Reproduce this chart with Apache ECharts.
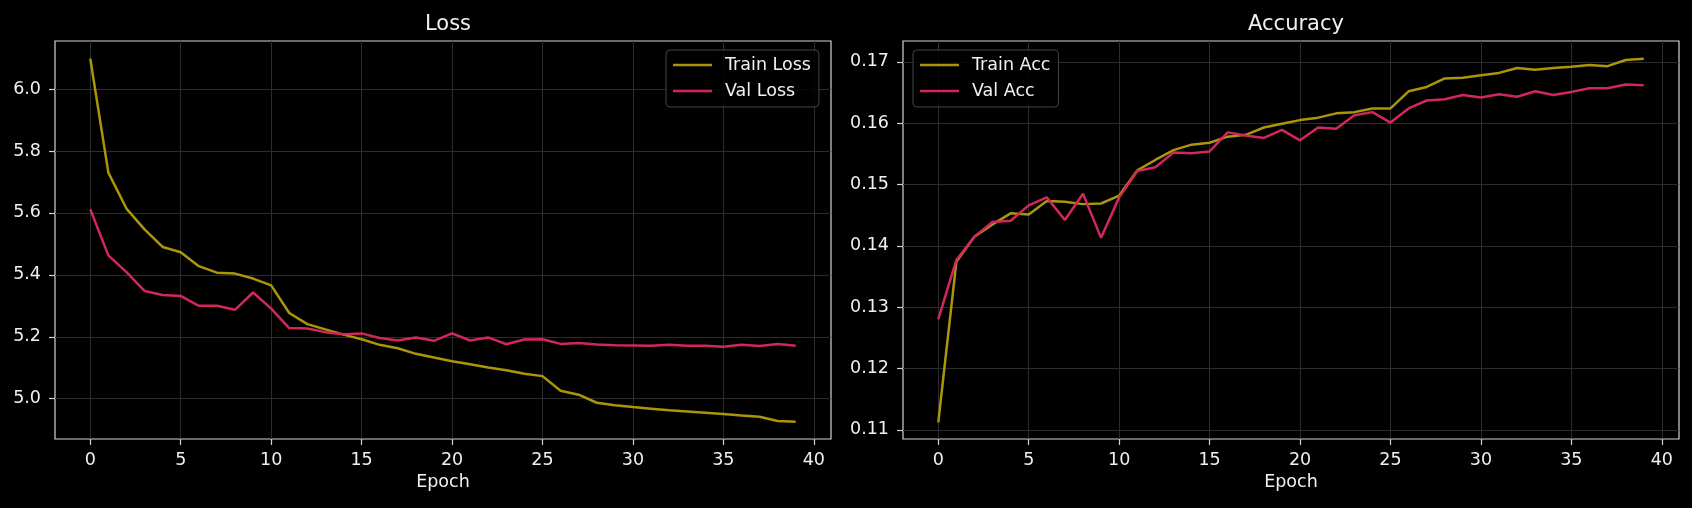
<!DOCTYPE html>
<html>
<head>
<meta charset="utf-8">
<title>Loss / Accuracy</title>
<script src="https://cdn.jsdelivr.net/npm/echarts@6/dist/echarts.min.js"></script>
<style>
	html, body { margin: 0; padding: 0; background: #000; }
	#chart { width: 1692px; height: 508px; }
</style>
</head>
<body>
<div id="chart"></div>
<script>
// values, epochs 0..39
var epochs = [];
for (var e = 0; e < 40; e++) epochs.push(e);

var trainLoss = [6.098, 5.730, 5.614, 5.547, 5.490, 5.473, 5.428, 5.407, 5.404, 5.388,
	5.366, 5.277, 5.241, 5.224, 5.207, 5.192, 5.174, 5.163, 5.145, 5.133,
	5.121, 5.111, 5.101, 5.092, 5.081, 5.073, 5.026, 5.013, 4.987, 4.979,
	4.973, 4.968, 4.963, 4.959, 4.955, 4.951, 4.946, 4.942, 4.928, 4.926];
var valLoss = [5.612, 5.463, 5.409, 5.348, 5.335, 5.332, 5.300, 5.300, 5.287, 5.343,
	5.291, 5.228, 5.227, 5.215, 5.208, 5.211, 5.196, 5.188, 5.198, 5.187,
	5.211, 5.188, 5.198, 5.176, 5.191, 5.192, 5.177, 5.180, 5.175, 5.173,
	5.172, 5.171, 5.174, 5.171, 5.171, 5.168, 5.174, 5.170, 5.177, 5.171];
var trainAcc = [0.1112, 0.1374, 0.1415, 0.1435, 0.1453, 0.1451, 0.1473, 0.1472, 0.1468, 0.1469,
	0.1482, 0.1523, 0.1540, 0.1556, 0.1565, 0.1568, 0.1578, 0.1581, 0.1593, 0.1599,
	0.1605, 0.1609, 0.1616, 0.1618, 0.1624, 0.1624, 0.1652, 0.1659, 0.1673, 0.1674,
	0.1678, 0.1682, 0.1690, 0.1687, 0.1690, 0.1692, 0.1695, 0.1693, 0.1703, 0.1705];
var valAcc = [0.1280, 0.1377, 0.1415, 0.1439, 0.1441, 0.1466, 0.1479, 0.1442, 0.1485, 0.1413,
	0.1479, 0.1522, 0.1528, 0.1552, 0.1551, 0.1554, 0.1585, 0.1580, 0.1576, 0.1589,
	0.1572, 0.1593, 0.1591, 0.1613, 0.1618, 0.1601, 0.1624, 0.1637, 0.1639, 0.1646,
	0.1642, 0.1647, 0.1643, 0.1652, 0.1646, 0.1651, 0.1657, 0.1657, 0.1663, 0.1662];

var epochTicks = [0, 5, 10, 15, 20, 25, 30, 35, 40];
var lossTicks = [5.0, 5.2, 5.4, 5.6, 5.8, 6.0];
var accTicks = [0.11, 0.12, 0.13, 0.14, 0.15, 0.16, 0.17];

var TRAIN_COLOR = "#ab960a";
var VAL_COLOR = "#d12858";
var FG = "#f0f0f0";
var SPINE = "#d4d4d4";
var FONT = "DejaVu Sans";

var pairs = function (ys) {
	return epochs.map(function (x, i) { return [x, ys[i]]; });
};

var xAxisOf = function (gridIndex) {
	return {
		type: "value", gridIndex: gridIndex,
		min: -1.95, max: 40.95, splitNumber: 8,
		name: "Epoch", nameLocation: "middle", nameGap: 34,
		nameTextStyle: { color: FG, fontSize: 17.5, fontFamily: FONT },
		axisLine: { show: false, onZero: false },
		axisTick: { show: true, length: 6, customValues: epochTicks, lineStyle: { color: SPINE, width: 1.2 } },
		axisLabel: { customValues: epochTicks, margin: 12, color: FG, fontSize: 17.5, fontFamily: FONT },
		splitLine: { show: true, lineStyle: { color: "#2c2c2c", width: 1 } }
	};
};

var yAxisOf = function (gridIndex, min, max, ticks, digits) {
	return {
		type: "value", gridIndex: gridIndex,
		min: min, max: max, splitNumber: 6,
		axisLine: { show: false, onZero: false },
		axisTick: { show: true, length: 6, customValues: ticks, lineStyle: { color: SPINE, width: 1.2 } },
		axisLabel: {
			customValues: ticks, margin: 14, color: FG, fontSize: 17.5, fontFamily: FONT,
			formatter: function (v) { return v.toFixed(digits); }
		},
		splitLine: { show: true, lineStyle: { color: "#2c2c2c", width: 1 } }
	};
};

var lineSeries = function (name, ys, color, idx) {
	return {
		name: name, type: "line", data: pairs(ys),
		xAxisIndex: idx, yAxisIndex: idx,
		symbol: "none", animation: false,
		lineStyle: { color: color, width: 2.5 },
		itemStyle: { color: color }
	};
};

var legendOf = function (left, names) {
	return {
		orient: "vertical", left: left, top: 50,
		data: names, icon: "rect", itemWidth: 39, itemHeight: 2.5, itemGap: 6,
		padding: [5, 8, 6, 7],
		backgroundColor: "rgba(0,0,0,0.8)", borderColor: "#444", borderWidth: 1, borderRadius: 4,
		textStyle: { color: FG, fontSize: 17.5, fontFamily: FONT, lineHeight: 20, padding: [0, 0, 0, 8] }
	};
};

var chart = echarts.init(document.getElementById("chart"));
chart.setOption({
	backgroundColor: "#000",
	animation: false,
	title: [
		{ text: "Loss", left: 443, top: 9, textAlign: "center", textStyle: { color: FG, fontSize: 21, fontWeight: "normal", fontFamily: FONT } },
		{ text: "Accuracy", left: 1291, top: 9, textAlign: "center", textStyle: { color: FG, fontSize: 21, fontWeight: "normal", fontFamily: FONT } }
	],
	legend: [
		legendOf(666, ["Train Loss", "Val Loss"]),
		legendOf(913, ["Train Acc", "Val Acc"])
	],
	grid: [
		{ left: 55, top: 41, width: 776, height: 398, show: true, borderColor: SPINE, borderWidth: 1.2, backgroundColor: "transparent" },
		{ left: 903, top: 41, width: 776, height: 398, show: true, borderColor: SPINE, borderWidth: 1.2, backgroundColor: "transparent" }
	],
	xAxis: [xAxisOf(0), xAxisOf(1)],
	yAxis: [
		yAxisOf(0, 4.870, 6.155, lossTicks, 1),
		yAxisOf(1, 0.1085, 0.1734, accTicks, 2)
	],
	series: [
		lineSeries("Train Loss", trainLoss, TRAIN_COLOR, 0),
		lineSeries("Val Loss", valLoss, VAL_COLOR, 0),
		lineSeries("Train Acc", trainAcc, TRAIN_COLOR, 1),
		lineSeries("Val Acc", valAcc, VAL_COLOR, 1)
	]
});
</script>
</body>
</html>
